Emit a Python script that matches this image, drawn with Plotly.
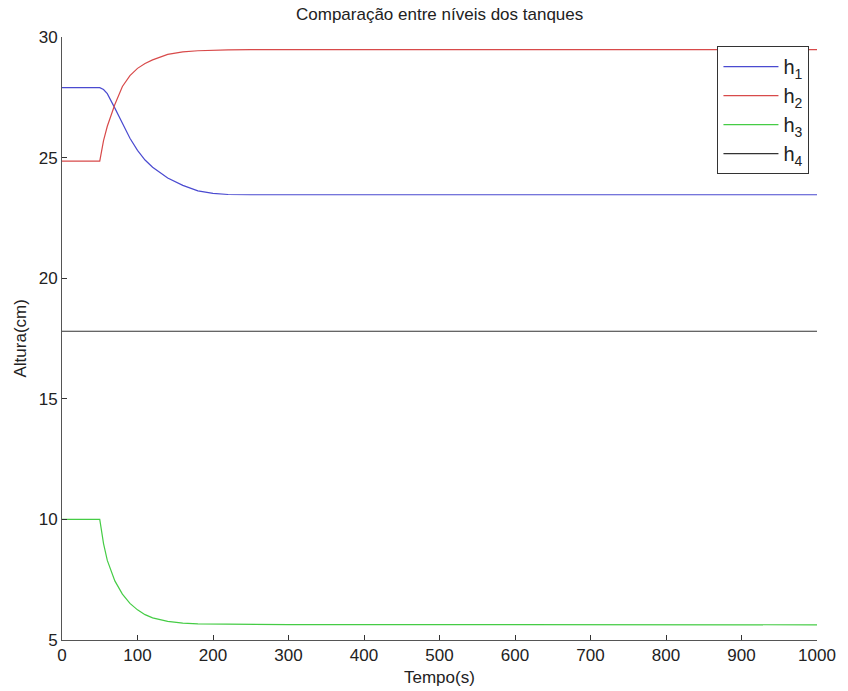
import plotly.graph_objects as go

# Time (s)
t = [0, 50, 55, 60, 70, 80, 90, 100, 110, 120, 140, 160, 180, 200, 220, 250, 300, 1000]

# Tank levels (cm)
h1 = [27.9, 27.9, 27.82, 27.65, 27.05, 26.4, 25.8, 25.3, 24.9, 24.6, 24.15, 23.85, 23.62, 23.52, 23.47, 23.46, 23.46, 23.46]
h2 = [24.85, 24.85, 25.7, 26.3, 27.2, 27.95, 28.4, 28.7, 28.9, 29.05, 29.28, 29.38, 29.43, 29.46, 29.47, 29.48, 29.48, 29.48]
h3 = [10.0, 10.0, 9.0, 8.3, 7.45, 6.9, 6.52, 6.25, 6.05, 5.92, 5.77, 5.7, 5.67, 5.66, 5.65, 5.64, 5.64, 5.63]
h4 = [17.8] * len(t)

names = ["h<sub>1</sub>", "h<sub>2</sub>", "h<sub>3</sub>", "h<sub>4</sub>"]
colors = ["#4a4ad0", "#d84a4a", "#45cc45", "#333333"]
series = [h1, h2, h3, h4]

title_text = "Comparação entre níveis dos tanques"
x_label = "Tempo(s)"
y_label = "Altura(cm)"
x_ticks = [0, 100, 200, 300, 400, 500, 600, 700, 800, 900, 1000]
y_ticks = [5, 10, 15, 20, 25, 30]

FONT = "Liberation Sans, Arial, sans-serif"
TXT = "#222222"

fig = go.Figure()
for name, col, ys in zip(names, colors, series):
    fig.add_trace(go.Scatter(x=t, y=ys, mode="lines", name=name,
                             line=dict(color=col, width=1.2)))

fig.update_layout(
    width=848, height=691,
    margin=dict(l=62, r=21, t=37, b=51),
    paper_bgcolor="white", plot_bgcolor="white",
    font=dict(family=FONT, size=17, color=TXT),
    showlegend=True,
    legend=dict(x=0.99, y=0.985, xanchor="right", yanchor="top",
                bgcolor="white", bordercolor="#333333", borderwidth=1,
                font=dict(size=20, color=TXT),
                itemwidth=55, tracegroupgap=0),
    annotations=[
        dict(text=title_text, xref="paper", yref="paper", x=0.5, y=1,
             xanchor="center", yanchor="middle",
             yshift=23, showarrow=False, font=dict(size=17, color=TXT)),
        dict(text=x_label, xref="paper", yref="paper", x=0.5, y=0,
             xanchor="center", yanchor="middle",
             yshift=-37, showarrow=False, font=dict(size=17, color=TXT)),
        dict(text=y_label, xref="paper", yref="paper", x=0, y=0.5,
             xanchor="center", yanchor="middle",
             xshift=-42, showarrow=False, textangle=-90,
             font=dict(size=17, color=TXT)),
    ],
)
fig.update_xaxes(range=[0, 1000], tickvals=x_ticks, ticks="inside", ticklen=5,
                 tickcolor="#333333", showline=True, linecolor="#555555",
                 linewidth=1, showgrid=False, zeroline=False,
                 tickfont=dict(size=17))
fig.update_yaxes(range=[5, 30], tickvals=y_ticks, ticks="inside", ticklen=5,
                 tickcolor="#333333", showline=True, linecolor="#555555",
                 linewidth=1, showgrid=False, zeroline=False,
                 tickfont=dict(size=17))

fig.write_html("out.html")
